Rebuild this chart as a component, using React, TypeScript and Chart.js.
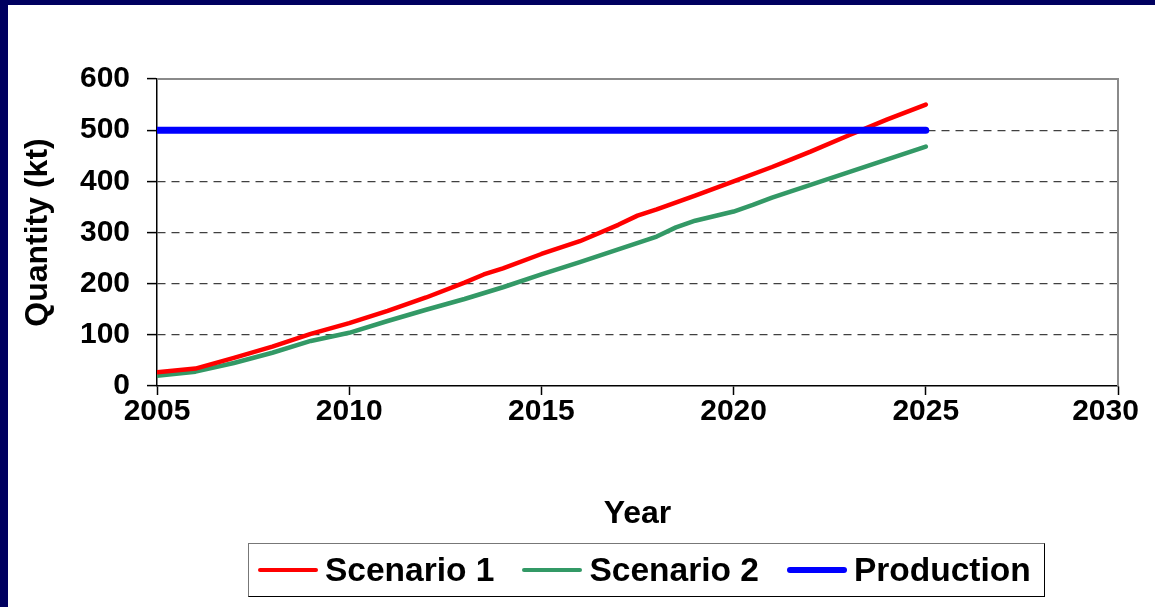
import React, { useEffect, useRef } from "react";
import { Chart, registerables } from "chart.js";

Chart.register(...registerables);

// ---- data ----
const scenario1Years = [2005, 2006, 2007, 2008, 2009, 2010, 2011, 2012, 2013, 2013.5, 2014, 2015, 2016, 2017, 2017.5, 2018, 2019, 2020, 2021, 2021.5, 2022, 2023, 2024, 2025];
const scenario1Values = [27, 34, 55, 77, 102, 123, 147, 173, 202, 218, 230, 258, 283, 315, 333, 345, 372, 400, 428, 443, 458, 490, 521, 550];
const scenario2Years = [2005, 2006, 2007, 2008, 2009, 2010, 2011, 2012, 2013, 2014, 2015, 2016, 2017, 2018, 2018.5, 2019, 2020, 2020.5, 2021, 2022, 2023, 2024, 2025];
const scenario2Values = [20, 28, 45, 65, 88, 104, 127, 149, 170, 193, 218, 242, 267, 292, 310, 323, 341, 354, 368, 393, 418, 443, 468];
const productionYears = [2005, 2025];
const productionValues = [500, 500];
const xTickValues = [2005, 2010, 2015, 2020, 2025, 2030];
const yTickValues = [0, 100, 200, 300, 400, 500, 600];
const seriesNames = ["Scenario 1", "Scenario 2", "Production"];
const seriesColors = ["#ff0000", "#339966", "#0000ff"];
const seriesWidths = [4.5, 4.5, 7];
const xTitle = "Year";
const yTitle = "Quantity (kt)";

const FONT = "'Liberation Sans', Arial, Helvetica, sans-serif";
const NAVY = "#000060";

const toPoints = (xs: number[], ys: number[]) => xs.map((x, i) => ({ x, y: ys[i] }));

const framePlugin = {
  id: "frame",
  beforeDatasetsDraw(chart: any) {
    const { ctx, chartArea } = chart;
    ctx.save();
    ctx.strokeStyle = "#8a8a8a";
    ctx.lineWidth = 2;
    ctx.beginPath();
    ctx.moveTo(chartArea.left, chartArea.top);
    ctx.lineTo(chartArea.right, chartArea.top);
    ctx.lineTo(chartArea.right, chartArea.bottom);
    ctx.stroke();
    ctx.restore();
  },
};

export default function App() {
  const ref = useRef<HTMLCanvasElement>(null);

  useEffect(() => {
    const prev = document.body.style.margin;
    document.body.style.margin = "0";
    const seriesData = [
      toPoints(scenario1Years, scenario1Values),
      toPoints(scenario2Years, scenario2Values),
      toPoints(productionYears, productionValues),
    ];
    const lastX = xTickValues[xTickValues.length - 1];
    const chart = new Chart(ref.current as HTMLCanvasElement, {
      type: "line",
      data: {
        datasets: seriesNames.map((name, i) => ({
          label: name,
          data: seriesData[i],
          borderColor: seriesColors[i],
          backgroundColor: seriesColors[i],
          borderWidth: seriesWidths[i],
          pointRadius: 0,
          tension: 0,
          borderCapStyle: "round",
          borderJoinStyle: "round",
          order: i === 2 ? 0 : i + 1,
        })),
      },
      options: {
        animation: false,
        responsive: false,
        devicePixelRatio: 1,
        layout: { padding: { left: 0, right: 37, top: 74, bottom: 71 } },
        plugins: { legend: { display: false }, tooltip: { enabled: false } },
        scales: {
          x: {
            type: "linear",
            min: 2005,
            max: 2030,
            afterBuildTicks: (s: any) => {
              s.ticks = xTickValues.map((v) => ({ value: v }));
            },
            afterFit: (s: any) => {
              s.height = 150;
              s.paddingLeft = 0;
              s.paddingRight = 0;
            },
            grid: {
              display: true,
              drawOnChartArea: false,
              drawTicks: true,
              tickLength: 9,
              tickColor: "#000",
              tickWidth: 1.5,
            },
            border: { display: true, color: "#000", width: 1.5 },
            ticks: {
              color: "#000",
              padding: 2,
              maxRotation: 0,
              autoSkip: false,
              font: { family: FONT, size: 30, weight: "bold", lineHeight: 1 },
              // the last label is nudged inwards (as in the original) with trailing spaces
              callback: (v: any) => (v === lastX ? String(v) + "   " : String(v)),
            },
            title: {
              display: true,
              text: xTitle,
              color: "#000",
              padding: { top: 0, bottom: 3 },
              font: { family: FONT, size: 32, weight: "bold" },
            },
          },
          y: {
            type: "linear",
            min: 0,
            max: 600,
            afterBuildTicks: (s: any) => {
              s.ticks = yTickValues.map((v) => ({ value: v }));
            },
            afterFit: (s: any) => {
              s.width = 149;
              s.paddingTop = 0;
              s.paddingBottom = 0;
            },
            grid: {
              display: true,
              drawOnChartArea: true,
              drawTicks: true,
              tickLength: 10,
              tickColor: "#000",
              tickWidth: 1.5,
              lineWidth: 1.2,
              color: (c: any) =>
                c.tick && (c.tick.value === 0 || c.tick.value === 600) ? "rgba(0,0,0,0)" : "#404040",
            },
            border: { display: true, color: "#000", width: 1.5, dash: [8, 6] },
            ticks: {
              color: "#000",
              padding: 17,
              autoSkip: false,
              font: { family: FONT, size: 30, weight: "bold", lineHeight: 1 },
              callback: (v: any) => String(v),
            },
            title: {
              display: true,
              text: yTitle,
              color: "#000",
              padding: { top: 11, bottom: 0 },
              font: { family: FONT, size: 32, weight: "bold" },
            },
          },
        },
      },
      plugins: [framePlugin],
    } as any);
    return () => {
      chart.destroy();
      document.body.style.margin = prev;
    };
  }, []);

  return (
    <div style={{ position: "fixed", left: 0, top: 0, width: 1155, height: 607, background: NAVY, overflow: "hidden" }}>
      <div style={{ position: "absolute", left: 8, top: 5, width: 1147, height: 602, background: "#fff" }}>
        <canvas ref={ref} width={1147} height={602} style={{ display: "block", width: 1147, height: 602 }} />
        <div
          style={{
            position: "absolute",
            left: 240,
            top: 538,
            width: 797,
            height: 54,
            boxSizing: "border-box",
            borderTop: "1.5px solid #777",
            borderLeft: "1.5px solid #777",
            borderRight: "1.5px solid #000",
            borderBottom: "1.5px solid #000",
            display: "flex",
            alignItems: "center",
            paddingLeft: 9,
            fontFamily: FONT,
            fontWeight: "bold",
            fontSize: 33.5,
            color: "#000",
            whiteSpace: "nowrap",
          }}
        >
          {seriesNames.map((name, i) => (
            <div key={name} style={{ display: "flex", alignItems: "center", marginRight: 28 }}>
              <span
                style={{
                  display: "inline-block",
                  width: 60,
                  height: seriesWidths[i] === 7 ? 6 : 4,
                  borderRadius: 3,
                  background: seriesColors[i],
                  marginRight: 7,
                }}
              />
              <span>{name}</span>
            </div>
          ))}
        </div>
      </div>
    </div>
  );
}
